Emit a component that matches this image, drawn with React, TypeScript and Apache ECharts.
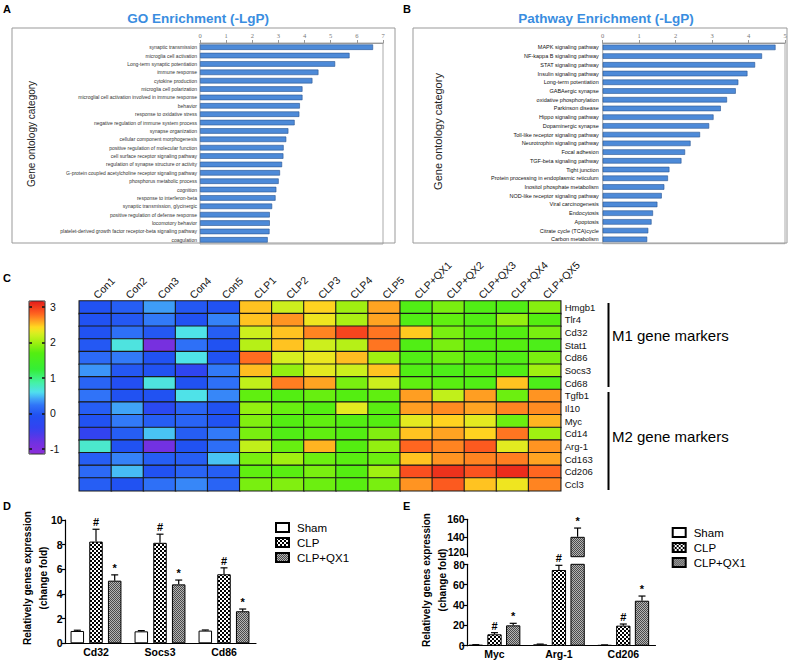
import React, { useEffect, useRef } from 'react';
import * as echarts from 'echarts';

// ---------- Panel A: GO enrichment ----------
const goTerms = [
  'synaptic transmission',
  'microglia cell activation',
  'Long-term synaptic potentiation',
  'immune response',
  'cytokine production',
  'microglia cell polarization',
  'microglial cell activation involved in immune response',
  'behavior',
  'response to oxidative stress',
  'negative regulation of immune system process',
  'synapse organization',
  'cellular component morphogenesis',
  'positive regulation of molecular function',
  'cell surface receptor signaling pathway',
  'regulation of synapse structure or activity',
  'G-protein coupled acetylcholine receptor signaling pathway',
  'phosphorus metabolic process',
  'cognition',
  'response to interferon-beta',
  'synaptic transmission, glycinergic',
  'positive regulation of defense response',
  'locomotory behavior',
  'platelet-derived growth factor receptor-beta signaling pathway',
  'coagulation',
];
const goValues = [6.62, 5.72, 5.17, 4.53, 4.3, 3.92, 3.92, 3.82, 3.8, 3.62, 3.38, 3.3, 3.2, 3.19, 3.14, 3.06, 3.01, 2.92, 2.89, 2.76, 2.67, 2.67, 2.66, 2.59];

// ---------- Panel B: Pathway enrichment ----------
const pathwayTerms = [
  'MAPK signaling pathway',
  'NF-kappa B signaling pathway',
  'STAT signaling pathway',
  'Insulin signaling pathway',
  'Long-term potentiation',
  'GABAergic synapse',
  'oxidative phosphorylation',
  'Parkinson disease',
  'Hippo signaling pathway',
  'Dopaminergic synapse',
  'Toll-like receptor signaling pathway',
  'Neurotrophin signaling pathway',
  'Focal adhesion',
  'TGF-beta signaling pathway',
  'Tight junction',
  'Protein processing in endoplasmic reticulum',
  'Inositol phosphate metabolism',
  'NOD-like receptor signaling pathway',
  'Viral carcinogenesis',
  'Endocytosis',
  'Apoptosis',
  'Citrate cycle (TCA)cycle',
  'Carbon metabolism',
];
const pathwayValues = [4.74, 4.37, 4.18, 3.97, 3.72, 3.65, 3.41, 3.24, 3.04, 2.92, 2.67, 2.41, 2.26, 2.16, 1.83, 1.79, 1.69, 1.62, 1.5, 1.38, 1.34, 1.25, 1.22];

// ---------- Panel C: heatmap ----------
const heatCols = ['Con1', 'Con2', 'Con3', 'Con4', 'Con5', 'CLP1', 'CLP2', 'CLP3', 'CLP4', 'CLP5', 'CLP+QX1', 'CLP+QX2', 'CLP+QX3', 'CLP+QX4', 'CLP+QX5'];
const heatRows = ['Hmgb1', 'Tlr4', 'Cd32', 'Stat1', 'Cd86', 'Socs3', 'Cd68', 'Tgfb1', 'Il10', 'Myc', 'Cd14', 'Arg-1', 'Cd163', 'Cd206', 'Ccl3'];
const hmHmgb1 = [-0.05, 0.05, 0.38, 0.0, -0.05, 2.5, 2.2, 2.45, 2.0, 2.6, 1.65, 1.85, 1.65, 1.65, 1.9];
const hmTlr4 = [-0.05, 0.0, 0.25, -0.05, 0.28, 2.5, 2.65, 2.35, 2.05, 2.6, 1.65, 1.75, 1.65, 1.95, 1.7];
const hmCd32 = [-0.05, 0.2, 0.0, 0.62, 0.05, 2.2, 2.5, 2.7, 2.95, 2.75, 2.48, 1.85, 1.7, 1.7, 1.85];
const hmStat1 = [0.0, 0.65, -0.9, 0.2, -0.05, 2.1, 2.5, 2.2, 2.1, 2.75, 1.65, 1.85, 1.65, 1.7, 1.6];
const hmCd86 = [0.15, 0.25, -0.05, 0.62, -0.05, 2.78, 2.25, 2.33, 2.52, 2.0, 1.65, 1.8, 1.7, 1.65, 1.85];
const hmSocs3 = [0.35, 0.0, -0.05, -0.35, 0.25, 2.52, 1.95, 2.3, 2.2, 2.5, 1.65, 1.6, 1.7, 1.65, 2.0];
const hmCd68 = [0.1, -0.1, 0.65, -0.05, 0.2, 2.15, 2.72, 2.6, 1.85, 2.2, 1.75, 1.72, 1.65, 2.5, 1.6];
const hmTgfb1 = [0.22, -0.05, -0.05, 0.62, 0.3, 1.75, 1.68, 1.78, 1.7, 1.75, 2.62, 2.15, 2.62, 1.8, 2.65];
const hmIl10 = [0.05, 0.4, -0.25, 0.1, -0.05, 1.95, 1.78, 1.7, 2.3, 1.72, 2.62, 2.68, 2.6, 2.7, 2.68];
const hmMyc = [-0.05, 0.25, 0.05, 0.1, -0.05, 1.88, 1.68, 1.75, 1.68, 1.7, 2.3, 2.45, 2.3, 1.8, 2.55];
const hmCd14 = [-0.4, 0.05, 0.5, 0.05, 0.25, 1.85, 1.65, 1.75, 1.68, 1.88, 2.5, 2.6, 2.45, 2.75, 2.0];
const hmArg1 = [0.72, -0.05, -0.85, -0.05, 0.18, 2.15, 1.78, 2.55, 1.7, 1.95, 2.8, 2.7, 2.85, 2.3, 2.65];
const hmCd163 = [0.05, 0.28, 0.05, 0.05, 0.5, 1.85, 2.0, 1.8, 1.72, 1.8, 2.5, 2.65, 2.7, 2.72, 2.6];
const hmCd206 = [0.15, 0.48, -0.05, 0.1, 0.05, 1.75, 1.72, 1.85, 1.7, 2.0, 2.9, 3.05, 2.88, 3.08, 2.8];
const hmCcl3 = [0.05, -0.05, 0.2, 0.3, 0.1, 1.85, 1.88, 1.8, 1.72, 1.85, 2.65, 2.85, 2.5, 2.35, 2.7];
const heatValues = [hmHmgb1, hmTlr4, hmCd32, hmStat1, hmCd86, hmSocs3, hmCd68, hmTgfb1, hmIl10, hmMyc, hmCd14, hmArg1, hmCd163, hmCd206, hmCcl3];
const colorbarMin = -1.15;
const colorbarMax = 3.17;
const colorbarTicks = [-1, 0, 1, 2, 3];
const colorStops: [number, string][] = [
  [-1.15, '#8c2ed8'], [-0.82, '#7030e2'], [-0.44, '#3442f0'], [-0.06, '#2050f2'],
  [0.22, '#2f72f8'], [0.4, '#40a2f8'], [0.59, '#50e0f0'], [0.87, '#44f2a4'],
  [1.24, '#34ee36'], [1.71, '#55ee10'], [2.0, '#a0f010'], [2.23, '#d2f020'],
  [2.41, '#ffe020'], [2.6, '#ffa422'], [2.83, '#ff5c20'], [3.17, '#e41a1a'],
];

// ---------- Panels D & E ----------
const groupNames = ['Sham', 'CLP', 'CLP+QX1'];
const groupMarks = ['', '#', '*'];
const dGenes = ['Cd32', 'Socs3', 'Cd86'];
const dSham = [1.0, 0.97, 1.03];
const dShamErr = [0.06, 0.06, 0.05];
const dClp = [8.25, 8.15, 5.6];
const dClpErr = [1.0, 0.7, 0.52];
const dQx = [5.08, 4.78, 2.6];
const dQxErr = [0.47, 0.35, 0.18];

const eGenes = ['Myc', 'Arg-1', 'Cd206'];
const eSham = [0.8, 1.3, 0.6];
const eShamErr = [0.2, 0.3, 0.2];
const eClp = [11.2, 74.4, 19.7];
const eClpErr = [1.6, 4.6, 1.6];
const eQx = [20.0, 140, 44.2];
const eQxErr = [2.0, 10, 4.6];
const eUpperMin = 117.3;
const eUpperMax = 160;
const eUpperTicks = [120, 140, 160];
const eLowerMax = 80;

const SANS = '"Liberation Sans", Arial, sans-serif';
const SERIF = '"Liberation Serif", "Times New Roman", serif';

function hex(c: string) {
  return [parseInt(c.slice(1, 3), 16), parseInt(c.slice(3, 5), 16), parseInt(c.slice(5, 7), 16)];
}
function colorAt(v: number) {
  for (let i = 0; i < colorStops.length - 1; i++) {
    const [a, ca] = colorStops[i];
    const [b, cb] = colorStops[i + 1];
    if (v <= b || i === colorStops.length - 2) {
      const t = Math.max(0, Math.min(1, (v - a) / (b - a)));
      const A = hex(ca), B = hex(cb);
      const m = A.map((x, j) => Math.round(x + (B[j] - x) * t));
      return `rgb(${m[0]},${m[1]},${m[2]})`;
    }
  }
  return colorStops[0][1];
}

function makePattern(kind: 'checker' | 'dots') {
  const c = document.createElement('canvas');
  const ctx = c.getContext('2d')!;
  if (kind === 'checker') {
    c.width = 4; c.height = 4;
    ctx.fillStyle = '#000'; ctx.fillRect(0, 0, 4, 4);
    ctx.fillStyle = '#fff'; ctx.fillRect(0, 0, 2, 2); ctx.fillRect(2, 2, 2, 2);
  } else {
    c.width = 2; c.height = 2;
    ctx.fillStyle = '#b4b4b4'; ctx.fillRect(0, 0, 2, 2);
    ctx.fillStyle = '#4a4a4a'; ctx.fillRect(0, 0, 1, 1); ctx.fillRect(1, 1, 1, 1);
  }
  return { image: c, repeat: 'repeat' } as any;
}

export default function App() {
  const ref = useRef<HTMLDivElement>(null);
  useEffect(() => {
    const chart = echarts.init(ref.current!, null, { renderer: 'svg', width: 798, height: 660 });

    const nColors = 48;
    const vmColors: string[] = [];
    for (let i = 0; i < nColors; i++) vmColors.push(colorAt(colorbarMin + ((colorbarMax - colorbarMin) * i) / (nColors - 1)));

    const heatData: number[][] = [];
    heatValues.forEach((row, ri) => row.forEach((v, ci) => heatData.push([ci, ri, v])));

    const groupStyles = [
      { color: '#fff', borderColor: '#000', borderWidth: 1 },
      { color: makePattern('checker'), borderColor: '#000', borderWidth: 1 },
      { color: makePattern('dots'), borderColor: '#000', borderWidth: 1 },
    ];

    const dVals = [dSham, dClp, dQx];
    const dErrs = [dShamErr, dClpErr, dQxErr];
    const eVals = [eSham, eClp, eQx];
    const eErrs = [eShamErr, eClpErr, eQxErr];

    const errData = (vals: number[][], errs: number[][]) => {
      const out: number[][] = [];
      vals.forEach((arr, k) => arr.forEach((v, i) => out.push([i, v, errs[k][i], k])));
      return out;
    };

    const makeErrRender = (step: number, lo: number, hi: number) => (params: any, api: any) => {
      const cat = api.value(0);
      const v = api.value(1);
      const e = api.value(2);
      const k = api.value(3);
      if (v < lo || v > hi) return null;
      const p0 = api.coord([cat, v]);
      const p1 = api.coord([cat, v + e]);
      const x = p0[0] + (k - 1) * step;
      const mark = groupMarks[k];
      const children: any[] = [
        { type: 'line', shape: { x1: x, y1: p0[1], x2: x, y2: p1[1] }, style: { stroke: '#000', lineWidth: 1.2 } },
        { type: 'line', shape: { x1: x - 3.5, y1: p1[1], x2: x + 3.5, y2: p1[1] }, style: { stroke: '#000', lineWidth: 1.2 } },
      ];
      if (mark) {
        children.push({
          type: 'text',
          style: { text: mark, x, y: p1[1] - 1.5, align: 'center', verticalAlign: 'bottom', font: `bold 11px ${SANS}`, fill: '#000' },
        });
      }
      return { type: 'group', children };
    };

    const barSeries = (vals: number[][], xi: number, yi: number, bw: number, gap: string) =>
      groupNames.map((name, k) => ({
        type: 'bar',
        name,
        xAxisIndex: xi,
        yAxisIndex: yi,
        data: vals[k],
        barWidth: bw,
        barGap: gap,
        itemStyle: groupStyles[k],
        silent: true,
        clip: true,
      }));

    const D_BW = 13.5, D_STEP = 18.7;
    const E_BW = 14.3, E_STEP = 18.7;

    const boldAxisLabel = { fontFamily: SANS, fontWeight: 'bold', fontSize: 10.5, color: '#000' };
    const eAxisLabel = {
      ...boldAxisLabel,
      margin: 3,
      formatter: (v: number) => (v === eUpperTicks[0] ? `{u|${v}}` : v === eLowerMax ? `{l|${v}}` : `{n|${v}}`),
      rich: {
        n: { fontFamily: SANS, fontWeight: 'bold', fontSize: 10.5, color: '#000' },
        u: { fontFamily: SANS, fontWeight: 'bold', fontSize: 10, color: '#000', padding: [0, 0, 3, 0] },
        l: { fontFamily: SANS, fontWeight: 'bold', fontSize: 10, color: '#000', padding: [3, 0, 0, 0] },
      },
    };

    const option: any = {
      animation: false,
      backgroundColor: '#fff',
      textStyle: { fontFamily: SANS },
      grid: [
        { left: 200, top: 43, width: 183, height: 201, show: true, borderColor: '#aaa', borderWidth: 1 },
        { left: 602.7, top: 43, width: 182.3, height: 200.7, show: true, borderColor: '#aaa', borderWidth: 1 },
        { left: 79.3, top: 301, width: 481.4, height: 189.7 },
        { left: 29, top: 301, width: 16, height: 153 },
        { left: 64, top: 520, width: 192, height: 123.3 },
        { left: 462.3, top: 519.3, width: 193.2, height: 37.4 },
        { left: 462.3, top: 564.3, width: 193.2, height: 81.4 },
      ],
      xAxis: [
        {
          type: 'value', gridIndex: 0, position: 'top', min: 0, max: 7, interval: 1,
          axisLine: { show: true, lineStyle: { color: '#999' } },
          axisTick: { show: true, length: 3, lineStyle: { color: '#999' } },
          axisLabel: { fontFamily: SERIF, fontSize: 6.5, color: '#777', margin: 4 },
          splitLine: { show: false },
        },
        {
          type: 'value', gridIndex: 1, position: 'top', min: 0, max: 5, interval: 1,
          axisLine: { show: true, lineStyle: { color: '#999' } },
          axisTick: { show: true, length: 3, lineStyle: { color: '#999' } },
          axisLabel: { fontFamily: SERIF, fontSize: 6.5, color: '#777', margin: 4 },
          splitLine: { show: false },
        },
        {
          type: 'category', gridIndex: 2, position: 'top', data: heatCols,
          axisLine: { show: false }, axisTick: { show: false },
          axisLabel: { rotate: -45, fontSize: 10.5, color: '#111', margin: 4, fontFamily: SANS, interval: 0 },
        },
        { type: 'category', gridIndex: 3, data: [''], show: false },
        {
          type: 'category', gridIndex: 4, data: dGenes,
          axisLine: { show: true, lineStyle: { color: '#000', width: 1.2 } },
          axisTick: { show: false },
          axisLabel: { ...boldAxisLabel, margin: 3 },
        },
        { type: 'category', gridIndex: 5, data: eGenes, show: false },
        {
          type: 'category', gridIndex: 6, data: eGenes,
          axisLine: { show: true, lineStyle: { color: '#000', width: 1.2 } },
          axisTick: { show: false },
          axisLabel: { ...boldAxisLabel, margin: 3 },
        },
      ],
      yAxis: [
        {
          type: 'category', gridIndex: 0, data: goTerms, inverse: true,
          axisLine: { show: false }, axisTick: { show: false },
          axisLabel: { fontSize: 5, color: '#333', margin: 3, interval: 0, fontFamily: SANS },
        },
        {
          type: 'category', gridIndex: 1, data: pathwayTerms, inverse: true,
          axisLine: { show: false }, axisTick: { show: false },
          axisLabel: { fontSize: 5.5, color: '#111', margin: 4, interval: 0, fontFamily: SANS },
        },
        {
          type: 'category', gridIndex: 2, data: heatRows, inverse: true, position: 'right',
          axisLine: { show: false }, axisTick: { show: false },
          axisLabel: { fontSize: 9.5, color: '#111', margin: 4, interval: 0, fontFamily: SANS },
        },
        {
          type: 'value', gridIndex: 3, position: 'left', min: colorbarMin, max: colorbarMax, z: 10,
          axisLine: { show: false },
          axisTick: { show: true, inside: true, length: 3, customValues: colorbarTicks, lineStyle: { color: '#111', width: 1.5 } },
          axisLabel: { show: false },
          splitLine: { show: false },
        },
        {
          type: 'value', gridIndex: 3, position: 'right', min: colorbarMin, max: colorbarMax, z: 10,
          axisLine: { show: false },
          axisTick: { show: true, inside: true, length: 3, customValues: colorbarTicks, lineStyle: { color: '#111', width: 1.5 } },
          axisLabel: { show: true, customValues: colorbarTicks, fontSize: 10.5, color: '#111', margin: 5, fontFamily: SANS },
          splitLine: { show: false },
        },
        {
          type: 'value', gridIndex: 4, min: 0, max: 10, interval: 2, offset: -1.7,
          axisLine: { show: true, lineStyle: { color: '#000', width: 1.2 } },
          axisTick: { show: true, length: 4, lineStyle: { color: '#000', width: 1.2 } },
          axisLabel: { ...boldAxisLabel, margin: 3 },
          splitLine: { show: false },
        },
        {
          type: 'value', gridIndex: 5, min: eUpperMin, max: eUpperMax, offset: -5.4,
          axisLine: { show: true, lineStyle: { color: '#000', width: 1.2 } },
          axisTick: { show: true, length: 4, customValues: eUpperTicks, lineStyle: { color: '#000', width: 1.2 } },
          axisLabel: { ...eAxisLabel, customValues: eUpperTicks },
          splitLine: { show: false },
        },
        {
          type: 'value', gridIndex: 6, min: 0, max: eLowerMax, interval: 20, offset: -5.4,
          axisLine: { show: true, lineStyle: { color: '#000', width: 1.2 } },
          axisTick: { show: true, length: 4, lineStyle: { color: '#000', width: 1.2 } },
          axisLabel: eAxisLabel,
          splitLine: { show: false },
        },
      ],
      visualMap: {
        type: 'continuous', min: colorbarMin, max: colorbarMax, seriesIndex: 2, dimension: 2,
        orient: 'vertical', left: 29, top: 301, itemWidth: 16, itemHeight: 153, padding: 0,
        calculable: false, text: null, hoverLink: false, inRange: { color: vmColors },
      },
      legend: [
        {
          data: groupNames, orient: 'vertical', left: 270, top: 516, itemWidth: 13, itemHeight: 9, itemGap: 2,
          icon: 'rect', selectedMode: false,
          textStyle: { fontFamily: SANS, fontSize: 11.5, color: '#000', lineHeight: 13, padding: [0, 0, 0, 3] },
        },
        {
          data: groupNames, orient: 'vertical', left: 666.7, top: 521, itemWidth: 13, itemHeight: 9, itemGap: 2,
          icon: 'rect', selectedMode: false,
          textStyle: { fontFamily: SANS, fontSize: 11.5, color: '#000', lineHeight: 13, padding: [0, 0, 0, 3] },
        },
      ],
      series: [
        {
          type: 'bar', name: 'GO', xAxisIndex: 0, yAxisIndex: 0, data: goValues, barWidth: 5.5, silent: true,
          itemStyle: { color: '#4d8ad8', borderColor: '#2a5592', borderWidth: 0.6 },
        },
        {
          type: 'bar', name: 'Pathway', xAxisIndex: 1, yAxisIndex: 1, data: pathwayValues, barWidth: 5.5, silent: true,
          itemStyle: { color: '#4d8ad8', borderColor: '#2a5592', borderWidth: 0.6 },
        },
        {
          type: 'heatmap', xAxisIndex: 2, yAxisIndex: 2, data: heatData, silent: true,
          itemStyle: { borderColor: '#1a1a1a', borderWidth: 1.1 },
          emphasis: { disabled: true },
        },
        ...barSeries(dVals, 4, 5, D_BW, `${((D_STEP - D_BW) / D_BW) * 100}%`),
        {
          type: 'custom', name: 'errD', xAxisIndex: 4, yAxisIndex: 5, silent: true, z: 5,
          data: errData(dVals, dErrs), renderItem: makeErrRender(D_STEP, 0, 10),
        },
        ...barSeries(eVals, 5, 6, E_BW, `${((E_STEP - E_BW) / E_BW) * 100}%`),
        {
          type: 'custom', name: 'errEU', xAxisIndex: 5, yAxisIndex: 6, silent: true, z: 5,
          data: errData(eVals, eErrs), renderItem: makeErrRender(E_STEP, eUpperMin, eUpperMax),
        },
        ...barSeries(eVals, 6, 7, E_BW, `${((E_STEP - E_BW) / E_BW) * 100}%`),
        {
          type: 'custom', name: 'errEL', xAxisIndex: 6, yAxisIndex: 7, silent: true, z: 5,
          data: errData(eVals, eErrs), renderItem: makeErrRender(E_STEP, 0, eLowerMax),
        },
      ],
      graphic: [
        // frames for A and B
        { type: 'rect', shape: { x: 12, y: 28, width: 383, height: 215 }, style: { fill: 'none', stroke: '#999', lineWidth: 1 }, silent: true },
        { type: 'rect', shape: { x: 413, y: 28, width: 374, height: 215 }, style: { fill: 'none', stroke: '#999', lineWidth: 1 }, silent: true },
        // colorbar frame
        { type: 'rect', shape: { x: 29, y: 301, width: 16, height: 153 }, style: { fill: 'none', stroke: '#333', lineWidth: 1 }, z: 100, silent: true },
        // panel letters
        { type: 'text', x: 3, y: 3, style: { text: 'A', font: `bold 11px ${SANS}`, fill: '#000' } },
        { type: 'text', x: 403, y: 3, style: { text: 'B', font: `bold 11px ${SANS}`, fill: '#000' } },
        { type: 'text', x: 3, y: 272, style: { text: 'C', font: `bold 11px ${SANS}`, fill: '#000' } },
        { type: 'text', x: 3, y: 500, style: { text: 'D', font: `bold 11px ${SANS}`, fill: '#000' } },
        { type: 'text', x: 403, y: 500, style: { text: 'E', font: `bold 11px ${SANS}`, fill: '#000' } },
        // titles
        { type: 'text', x: 198, y: 18.5, style: { text: 'GO Enrichment (-LgP)', font: `bold 13.5px ${SANS}`, fill: '#3a8de0', align: 'center', verticalAlign: 'middle' } },
        { type: 'text', x: 606, y: 18.5, style: { text: 'Pathway Enrichment (-LgP)', font: `bold 13.5px ${SANS}`, fill: '#3a8de0', align: 'center', verticalAlign: 'middle' } },
        // y titles A/B
        { type: 'text', x: 31.5, y: 134, rotation: Math.PI / 2, style: { text: 'Gene ontology category', font: `10px ${SANS}`, fill: '#222', align: 'center', verticalAlign: 'middle' } },
        { type: 'text', x: 437.5, y: 131.5, rotation: Math.PI / 2, style: { text: 'Gene ontology category', font: `11px ${SANS}`, fill: '#222', align: 'center', verticalAlign: 'middle' } },
        // y titles D/E
        { type: 'text', x: 35.5, y: 578, rotation: Math.PI / 2, style: { text: 'Relatively genes expression\n(change fold)', font: `bold 10px ${SANS}`, lineHeight: 16, fill: '#000', align: 'center', verticalAlign: 'middle' } },
        { type: 'text', x: 434.5, y: 580, rotation: Math.PI / 2, style: { text: 'Relatively genes expression\n(change fold)', font: `bold 10px ${SANS}`, lineHeight: 16, fill: '#000', align: 'center', verticalAlign: 'middle' } },
        // marker brackets
        { type: 'line', shape: { x1: 608.5, y1: 303, x2: 608.5, y2: 387 }, style: { stroke: '#000', lineWidth: 2 } },
        { type: 'line', shape: { x1: 608.5, y1: 392, x2: 608.5, y2: 490 }, style: { stroke: '#000', lineWidth: 2 } },
        { type: 'text', x: 612, y: 335, style: { text: 'M1 gene markers', font: `15px ${SANS}`, fill: '#000', verticalAlign: 'middle' } },
        { type: 'text', x: 612, y: 436.7, style: { text: 'M2 gene markers', font: `15px ${SANS}`, fill: '#000', verticalAlign: 'middle' } },
      ],
    };

    chart.setOption(option);
    return () => chart.dispose();
  }, []);

  return <div ref={ref} style={{ position: 'fixed', left: 0, top: 0, width: 798, height: 660, background: '#fff' }} />;
}
